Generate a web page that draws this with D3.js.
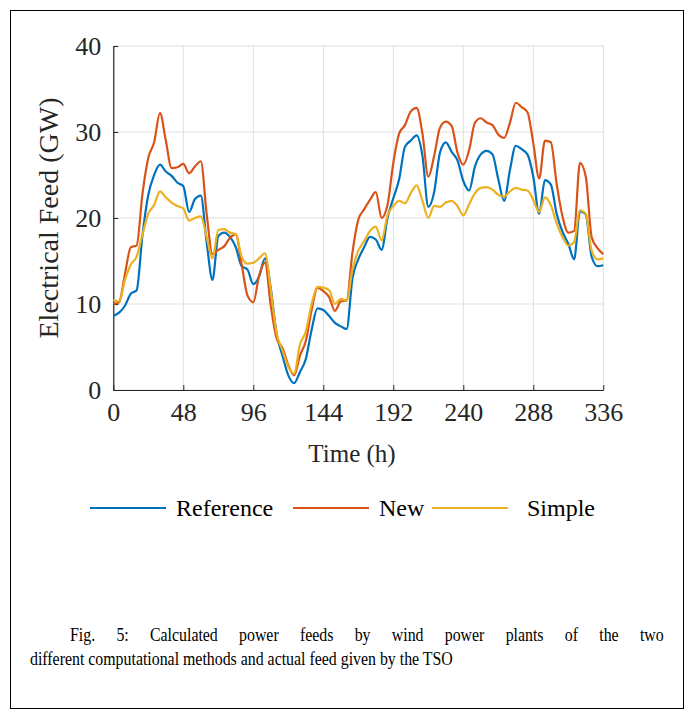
<!DOCTYPE html>
<html lang="en">
<head>
<meta charset="UTF-8">
<title>Wind power feeds</title>
<style>
  body { margin: 0; background: #fff; }
  #wrap { position: relative; width: 699px; height: 715px; }
  #chart { position: absolute; left: 0; top: 0; }
  .caption {
    position: absolute;
    font-family: "Liberation Serif", "Times New Roman", serif;
    font-size: 19px;
    line-height: 20px;
    color: #000;
    transform: scaleX(0.835);
    transform-origin: 0 0;
  }
  #cap1 { left: 70px; top: 625px; width: 711px; text-align: justify; text-align-last: justify; }
  #cap2 { left: 30px; top: 649px; white-space: nowrap; }
</style>
<script src="https://d3js.org/d3.v7.min.js"></script>
</head>
<body>
<div id="wrap">
  <svg id="chart"></svg>
  <div class="caption" id="cap1">Fig. 5: Calculated power feeds by wind power plants of the two</div>
  <div class="caption" id="cap2">different computational methods and actual feed given by the TSO</div>
</div>
<script>
  // hours, every 4 h over the two weeks
  const hours = d3.range(0, 337, 4);

  const reference = [8.6, 9.0, 9.8, 11.2, 11.6, 18.0, 22.7, 25.0, 26.2, 25.4, 24.9, 24.1, 23.7, 20.7, 22.2, 22.6,
    17.2, 12.8, 17.9, 18.3, 17.8, 16.6, 14.4, 14.0, 12.3, 13.2, 15.3, 11.8, 6.5, 4.0, 1.7, 0.8,
    2.1, 3.6, 7.0, 9.5, 9.3, 8.6, 7.8, 7.4, 7.1, 13.0, 15.2, 16.6, 17.8, 17.5, 16.3, 20.0,
    22.3, 24.5, 28.3, 29.0, 29.6, 27.2, 21.3, 23.0, 27.6, 28.8, 27.7, 26.7, 24.3, 23.2, 26.0, 27.4,
    27.8, 27.4, 24.5, 22.0, 25.6, 28.4, 28.0, 27.4, 24.8, 20.5, 24.4, 23.9, 20.5, 18.4, 17.0, 15.2,
    20.8, 20.4, 15.5, 14.4, 14.5];

  const newMethod = [10.0, 10.2, 13.5, 16.6, 16.8, 22.8, 27.0, 28.8, 32.2, 29.0, 25.8, 25.9, 26.3, 25.2, 26.0, 26.6,
    20.5, 15.8, 16.3, 16.7, 17.7, 18.1, 14.6, 11.0, 10.2, 13.3, 14.8, 9.8, 6.0, 4.9, 2.9, 1.7,
    4.0, 5.7, 9.3, 11.9, 11.5, 10.8, 9.2, 10.3, 10.4, 16.0, 19.8, 21.0, 22.1, 23.0, 20.0, 21.5,
    26.4, 29.8, 30.8, 32.4, 32.8, 29.8, 24.8, 27.2, 30.5, 31.2, 30.7, 27.6, 26.2, 27.9, 31.1, 31.6,
    31.1, 30.8, 29.7, 29.3, 31.1, 33.4, 32.9, 32.3, 28.7, 24.6, 29.0, 28.8, 24.0, 20.2, 18.3, 18.5,
    26.4, 24.8, 17.8, 16.5, 15.8];

  const simple = [10.5, 10.3, 12.8, 14.6, 15.5, 18.1, 20.5, 21.5, 23.1, 22.4, 21.8, 21.4, 21.1, 19.7, 20.0, 20.2,
    17.8, 15.3, 18.6, 18.7, 18.3, 18.1, 15.5, 14.7, 14.8, 15.3, 15.9, 11.6, 6.6, 4.6, 2.7, 1.9,
    5.3, 6.8, 10.0, 12.0, 11.9, 11.6, 10.0, 10.6, 10.4, 14.0, 16.2, 17.3, 18.5, 19.0, 17.4, 20.3,
    21.4, 22.0, 21.7, 22.9, 23.8, 22.0, 20.0, 21.4, 21.3, 21.8, 22.0, 21.4, 20.3, 21.6, 22.9, 23.5,
    23.6, 23.3, 22.7, 22.5, 23.1, 23.5, 23.3, 23.2, 22.1, 20.7, 22.4, 21.5, 19.4, 17.8, 16.8, 17.2,
    20.9, 20.5, 16.2, 15.2, 15.3];

  const seriesNames = ["Reference", "New", "Simple"];
  const seriesColors = ["#0072BD", "#D95319", "#EDB120"];
  const xTicks = [0, 48, 96, 144, 192, 240, 288, 336];
  const yTicks = [0, 10, 20, 30, 40];

  const W = 699, H = 715;
  const plotL = 113.3, plotR = 603.3, plotT = 46, plotB = 390;
  const serif = '"Liberation Serif", "Times New Roman", serif';
  const axisColor = "#262626";

  const svg = d3.select("#chart").attr("width", W).attr("height", H);

  // figure frame
  svg.append("rect")
    .attr("x", 10.5).attr("y", 10.5)
    .attr("width", 673).attr("height", 698)
    .attr("fill", "none").attr("stroke", "#000").attr("stroke-width", 1);

  const x = d3.scaleLinear().domain([0, 336]).range([plotL, plotR]);
  const y = d3.scaleLinear().domain([0, 40]).range([plotB, plotT]);

  // grid
  svg.append("g").selectAll("line").data(xTicks).join("line")
    .attr("x1", d => x(d)).attr("x2", d => x(d))
    .attr("y1", plotT).attr("y2", plotB)
    .attr("stroke", "#dfdfdf").attr("stroke-width", 1);
  svg.append("g").selectAll("line").data(yTicks).join("line")
    .attr("x1", plotL).attr("x2", plotR)
    .attr("y1", d => y(d)).attr("y2", d => y(d))
    .attr("stroke", "#dfdfdf").attr("stroke-width", 1);

  // axes, ticks pointing inwards like matlab
  const xAxis = svg.append("g")
    .attr("transform", `translate(0,${plotB})`)
    .call(d3.axisBottom(x).tickValues(xTicks).tickSizeInner(-5).tickSizeOuter(0).tickPadding(13));
  const yAxis = svg.append("g")
    .attr("transform", `translate(${plotL},0)`)
    .call(d3.axisLeft(y).tickValues(yTicks).tickSizeInner(-5).tickSizeOuter(0).tickPadding(12));

  [xAxis, yAxis].forEach(g => {
    g.select(".domain").attr("stroke", axisColor).attr("stroke-width", 1.2);
    g.selectAll(".tick line").attr("stroke", axisColor);
    g.selectAll("text")
      .attr("font-family", serif)
      .attr("font-size", 26)
      .attr("fill", axisColor);
  });
  xAxis.selectAll("text").attr("dy", "0.71em");

  svg.append("text")
    .attr("x", 352).attr("y", 462)
    .attr("text-anchor", "middle")
    .attr("font-family", serif).attr("font-size", 25)
    .attr("fill", axisColor)
    .text("Time (h)");

  svg.append("text")
    .attr("transform", "translate(58,218) rotate(-90)")
    .attr("text-anchor", "middle")
    .attr("font-family", serif).attr("font-size", 28)
    .attr("fill", axisColor)
    .text("Electrical Feed (GW)");

  // lines
  const allSeries = [reference, newMethod, simple];
  const line = d3.line()
    .x((d, i) => x(hours[i]))
    .y(d => y(d))
    .curve(d3.curveMonotoneX);

  svg.append("g").selectAll("path").data(allSeries).join("path")
    .attr("d", line)
    .attr("fill", "none")
    .attr("stroke", (d, i) => seriesColors[i])
    .attr("stroke-width", 2.2)
    .attr("stroke-linejoin", "round");

  // legend
  const legendX = [90, 293, 432];
  const legendY = 508;
  const leg = svg.append("g").selectAll("g").data(seriesNames).join("g")
    .attr("transform", (d, i) => `translate(${legendX[i]},${legendY})`);
  leg.append("line")
    .attr("x1", 0).attr("x2", 76).attr("y1", 0).attr("y2", 0)
    .attr("stroke", (d, i) => seriesColors[i]).attr("stroke-width", 2.2);
  leg.append("text")
    .attr("x", (d, i) => i === 2 ? 95 : 86).attr("y", 8)
    .attr("font-family", serif).attr("font-size", 24)
    .attr("fill", "#000")
    .text(d => d);
</script>
</body>
</html>
